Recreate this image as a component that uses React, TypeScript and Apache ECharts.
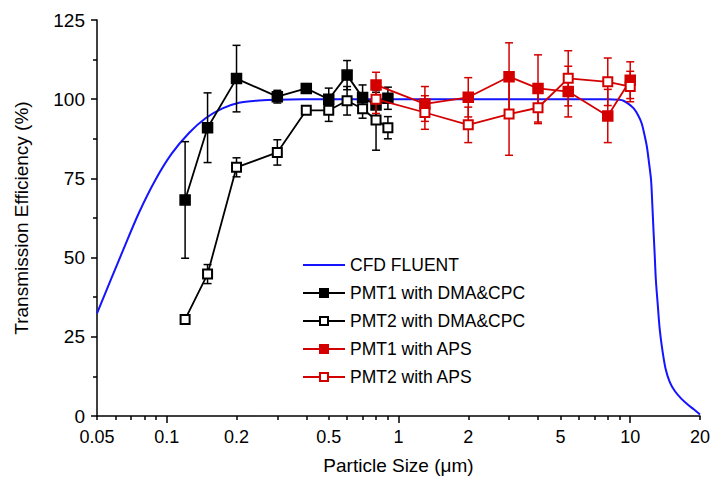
import React, { useEffect, useRef } from "react";
import * as echarts from "echarts";

const cfdX = [0.05, 0.064, 0.0757, 0.0893, 0.105, 0.125, 0.147, 0.174, 0.205, 0.25, 0.3, 0.5, 1, 2, 5, 8, 9, 9.35, 9.8, 10.35, 10.8, 11.2, 11.5, 11.8, 12.05, 12.3, 12.45, 12.6, 12.75, 12.9, 13.15, 13.4, 13.75, 14.2, 14.8, 15.6, 16.6, 17.6, 18.8, 20];
const cfdY = [32.4, 51.4, 64, 74.5, 82.8, 89.4, 94, 97.1, 98.9, 99.6, 99.85, 100, 100, 100, 100, 100, 99.8, 99.5, 98.6, 97.1, 95, 92.4, 89, 85, 80, 74.5, 67, 58.7, 51, 43, 35, 27.5, 21, 15, 10.8, 7.8, 5.5, 3.8, 2.1, 0.5];

const dmaX = [0.12, 0.15, 0.2, 0.3, 0.4, 0.5, 0.6, 0.7, 0.8, 0.9];
const pmt1DmaY = [68.2, 91.0, 106.5, 100.8, 103.4, 100.0, 107.6, 100.5, 98.2, 100.3];
const pmt1DmaErr = [18.4, 11, 10.5, 2, 1.5, 3.5, 4.6, 4, 4, 3.5];
const pmt2DmaY = [30.5, 44.8, 78.5, 83.2, 96.5, 96.5, 99.5, 97.0, 93.4, 91.0];
const pmt2DmaErr = [0.5, 3, 3, 4, 1, 3.5, 4.5, 3, 9.5, 3.5];

const apsX = [0.8, 1.3, 2.0, 3.0, 4.0, 5.4, 8.0, 10];
const pmt1ApsY = [104.5, 98.5, 100.6, 107.1, 103.4, 102.4, 94.7, 106];
const pmt1ApsErr = [4, 5.5, 6.2, 10.7, 10.6, 8, 8.4, 5.8];
const pmt2ApsY = [100, 95.8, 91.9, 95.3, 97.3, 106.6, 105.5, 104];
const pmt2ApsErr = [4.5, 5.3, 5.6, 13, 5, 8.7, 7.5, 4.8];

const xLabels = [0.05, 0.1, 0.2, 0.5, 1, 2, 5, 10, 20];
const xMajorTicks = [0.1, 1, 10];
const xMinorTicks = [0.05, 0.06, 0.07, 0.08, 0.09, 0.2, 0.3, 0.4, 0.5, 0.6, 0.7, 0.8, 0.9, 2, 3, 4, 5, 6, 7, 8, 9, 20];

const RED = "#d40000";
const BLUE = "#1414ff";
const FONT = "'Liberation Sans', Arial, sans-serif";

function errSeries(xs: number[], ys: number[], es: number[], color: string, z: number) {
  return {
    type: "custom",
    z,
    silent: true,
    encode: { x: 0, y: [1, 2] },
    data: xs.map((x, i) => [x, ys[i] - es[i], ys[i] + es[i]]),
    renderItem: (params: any, api: any) => {
      const x = api.value(0);
      const top = api.coord([x, api.value(2)]);
      const bot = api.coord([x, api.value(1)]);
      const w = 4;
      const style = { stroke: color, lineWidth: 1.5 };
      return {
        type: "group",
        children: [
          { type: "line", shape: { x1: top[0], y1: top[1], x2: bot[0], y2: bot[1] }, style },
          { type: "line", shape: { x1: top[0] - w, y1: top[1], x2: top[0] + w, y2: top[1] }, style },
          { type: "line", shape: { x1: bot[0] - w, y1: bot[1], x2: bot[0] + w, y2: bot[1] }, style },
        ],
      };
    },
  };
}

function lineSeries(name: string, xs: number[], ys: number[], color: string, symbol: string, size: number, z: number) {
  return {
    name,
    type: "line",
    z,
    data: xs.map((x, i) => [x, ys[i]]),
    symbol,
    symbolSize: size,
    showAllSymbol: true,
    lineStyle: { color, width: 1.8 },
    itemStyle: { color, borderColor: color, borderWidth: 1.5 },
  };
}

export default function App() {
  const ref = useRef<HTMLDivElement>(null);
  useEffect(() => {
    document.body.style.margin = "0";
    if (!ref.current) return;
    const chart = echarts.init(ref.current, undefined, { renderer: "svg" });
    chart.setOption({
      animation: false,
      backgroundColor: "#ffffff",
      textStyle: { fontFamily: FONT },
      grid: { left: 97, right: 13, top: 20, bottom: 70 },
      legend: {
        orient: "vertical",
        left: 302,
        top: 256,
        padding: 0,
        itemWidth: 42,
        itemHeight: 10,
        itemGap: 10,
        data: [
          { name: "CFD FLUENT", itemStyle: { opacity: 0 } },
          "PMT1 with DMA&CPC",
          "PMT2 with DMA&CPC",
          "PMT1 with APS",
          "PMT2 with APS",
        ],
        textStyle: { fontSize: 17.5, color: "#000", fontFamily: FONT },
      },
      xAxis: [
        {
          type: "log",
          logBase: 10,
          min: 0.05,
          max: 20,
          name: "Particle Size (\u03bcm)",
          nameLocation: "middle",
          nameGap: 40,
          nameTextStyle: { fontSize: 19, color: "#000", fontFamily: FONT },
          axisLine: { show: true, lineStyle: { color: "#000", width: 1.5 } },
          axisTick: { show: true, customValues: xMajorTicks, length: 7, lineStyle: { color: "#000", width: 1.5 } },
          axisLabel: { customValues: xLabels, fontSize: 18, color: "#000", margin: 12, formatter: (v: number) => String(v), fontFamily: FONT },
          splitLine: { show: false },
          minorTick: { show: false },
        },
        {
          type: "log",
          logBase: 10,
          min: 0.05,
          max: 20,
          position: "bottom",
          axisLine: { show: false },
          axisTick: { show: true, customValues: xMinorTicks, length: 4, lineStyle: { color: "#000", width: 1.5 } },
          axisLabel: { show: false },
          splitLine: { show: false },
        },
      ],
      yAxis: {
        type: "value",
        min: 0,
        max: 125,
        interval: 25,
        name: "Transmission Efficiency (%)",
        nameLocation: "middle",
        nameGap: 66,
        nameTextStyle: { fontSize: 19, color: "#000", fontFamily: FONT },
        axisLine: { show: true, lineStyle: { color: "#000", width: 1.5 } },
        axisTick: { show: true, length: 6, lineStyle: { color: "#000", width: 1.5 } },
        minorTick: { show: true, splitNumber: 2, length: 4, lineStyle: { color: "#000", width: 1.5 } },
        axisLabel: { fontSize: 19, color: "#000", margin: 12, fontFamily: FONT },
        splitLine: { show: false },
      },
      series: [
        {
          name: "CFD FLUENT",
          type: "line",
          z: 1,
          data: cfdX.map((x, i) => [x, cfdY[i]]),
          smooth: 0.3,
          showSymbol: false,
          symbol: "none",
          lineStyle: { color: BLUE, width: 2 },
          itemStyle: { color: BLUE },
        },
        errSeries(dmaX, pmt1DmaY, pmt1DmaErr, "#000", 2),
        errSeries(dmaX, pmt2DmaY, pmt2DmaErr, "#000", 2),
        lineSeries("PMT1 with DMA&CPC", dmaX, pmt1DmaY, "#000", "rect", 10, 3),
        lineSeries("PMT2 with DMA&CPC", dmaX, pmt2DmaY, "#000", "emptyRect", 9, 3),
        errSeries(apsX, pmt1ApsY, pmt1ApsErr, RED, 4),
        errSeries(apsX, pmt2ApsY, pmt2ApsErr, RED, 4),
        lineSeries("PMT1 with APS", apsX, pmt1ApsY, RED, "rect", 10, 5),
        lineSeries("PMT2 with APS", apsX, pmt2ApsY, RED, "emptyRect", 9, 5),
      ],
    });
    return () => chart.dispose();
  }, []);
  return <div ref={ref} style={{ width: 713, height: 486 }} />;
}
